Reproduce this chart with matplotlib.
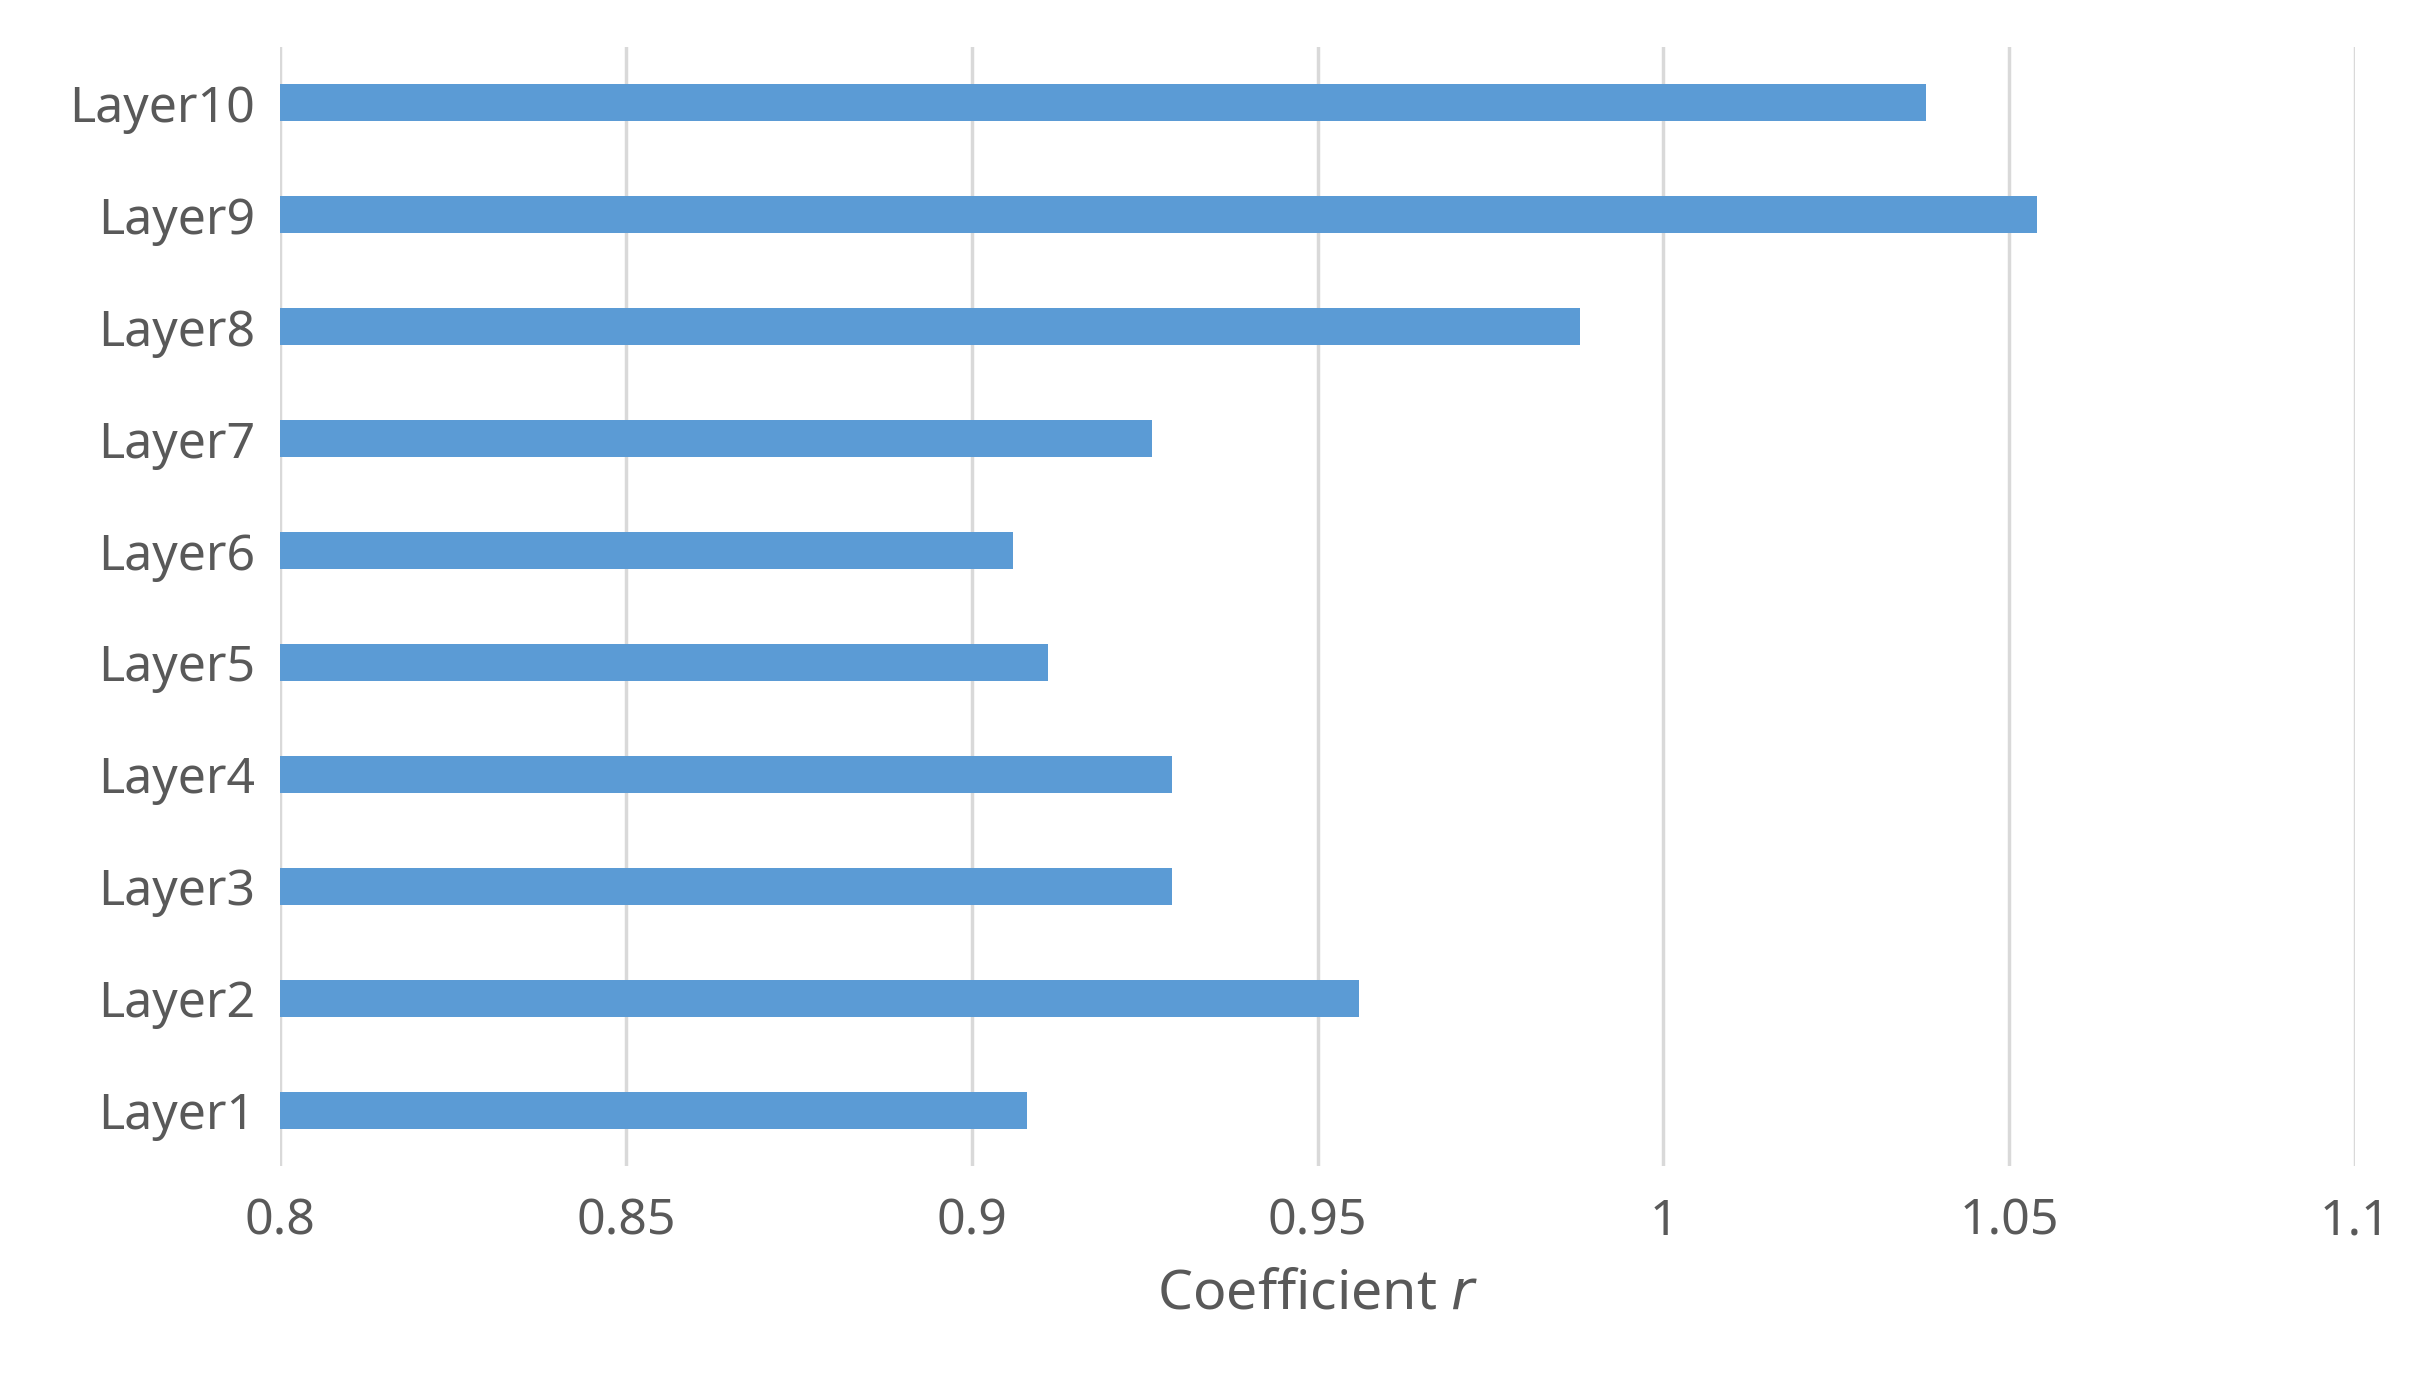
import matplotlib
matplotlib.use("Agg")
import matplotlib.pyplot as plt

layers = ["Layer1", "Layer2", "Layer3", "Layer4", "Layer5",
          "Layer6", "Layer7", "Layer8", "Layer9", "Layer10"]
coef = [0.908, 0.956, 0.929, 0.929, 0.911, 0.906, 0.926, 0.988, 1.054, 1.038]
xticks = [0.8, 0.85, 0.9, 0.95, 1.0, 1.05, 1.1]
xtick_labels = ["0.8", "0.85", "0.9", "0.95", "1", "1.05", "1.1"]

plt.rcParams["font.family"] = ["Noto Sans", "DejaVu Sans"]

fig = plt.figure(figsize=(24.27, 13.8), dpi=100)
ax = fig.add_axes([0.1154, 0.155, 0.855, 0.811])

ax.barh(range(len(layers)), [c - 0.8 for c in coef], left=0.8, height=0.33,
        color="#5B9BD5", zorder=3)

ax.set_xlim(0.8, 1.1)
ax.set_ylim(-0.5, 9.5)
ax.set_xticks(xticks)
ax.set_xticklabels(xtick_labels)
ax.set_yticks(range(len(layers)))
ax.set_yticklabels(layers)
ax.grid(axis="x", color="#D9D9D9", linewidth=2.5, zorder=0)
for s in ax.spines.values():
    s.set_visible(False)
ax.tick_params(axis="both", length=0, labelsize=36, labelcolor="#595959")
ax.tick_params(axis="x", pad=22)
ax.tick_params(axis="y", pad=18)
ax.set_xlabel("Coefficient $\\it{r}$", fontsize=40, color="#595959", labelpad=14)

fig.savefig("out.png", dpi=100)
